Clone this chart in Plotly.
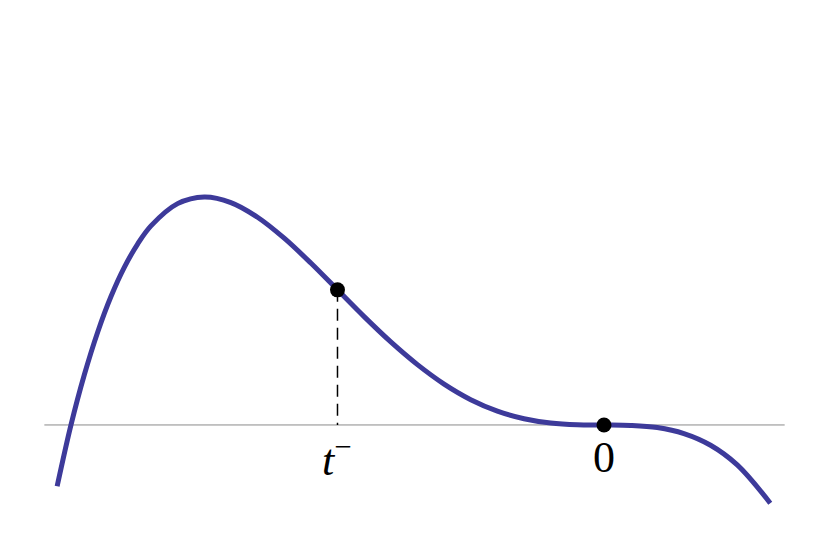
import plotly.graph_objects as go

CURVE = "#3d3a9a"

# curve (x: 0 at the flat point, -1 at the left axis crossing)
curve_x = [-1.026, -1.0, -0.975, -0.95, -0.925, -0.9, -0.875, -0.85, -0.8, -0.75,
           -0.7, -0.65, -0.6, -0.55, -0.5, -0.45, -0.4, -0.35, -0.3, -0.25,
           -0.2, -0.15, -0.1, -0.05, 0.0, 0.05, 0.1, 0.15, 0.2, 0.25, 0.312]
curve_y = [-0.0284, 0.0, 0.0232, 0.0429, 0.0594, 0.0729, 0.0837, 0.0921, 0.1024, 0.1055,
           0.1029, 0.0961, 0.0864, 0.0749, 0.0625, 0.0501, 0.0384, 0.0279, 0.0189, 0.0117,
           0.0064, 0.0029, 0.0009, 0.0001, 0.0, -0.0002, -0.0012, -0.0040, -0.0094, -0.0185, -0.0362]

# marked points
pt_x = [-0.5, 0.0]
pt_y = [0.0625, 0.0]
pt_labels = ["<i>t</i><sup>\u2212</sup>", "0"]

fig = go.Figure()
fig.add_shape(type="line", x0=-1.05, x1=0.339, y0=0, y1=0,
              line=dict(color="#8a8a8a", width=1), layer="below")
fig.add_trace(go.Scatter(x=[pt_x[0], pt_x[0]], y=[pt_y[0], 0], mode="lines",
                         line=dict(color="black", width=1.5, dash="12px,7px")))
fig.add_trace(go.Scatter(x=curve_x, y=curve_y, mode="lines",
                         line=dict(color=CURVE, width=5, shape="spline", smoothing=1.0)))
fig.add_trace(go.Scatter(x=pt_x, y=pt_y, mode="markers",
                         marker=dict(color="black", size=15)))
for x, lab in zip(pt_x, pt_labels):
    fig.add_annotation(x=x, y=0, text=lab, showarrow=False, yshift=-33,
                       font=dict(family="Liberation Serif", size=44, color="black"))

# page has an 8px body margin, so the figure is a bit smaller than the window
fig.update_layout(
    width=820, height=538, showlegend=False,
    margin=dict(l=0, r=0, t=0, b=0),
    paper_bgcolor="white", plot_bgcolor="white",
    xaxis=dict(range=[-1.1182, 0.4203], visible=False),
    yaxis=dict(range=[-0.0560, 0.1929], visible=False),
)
fig.write_html("out.html")
